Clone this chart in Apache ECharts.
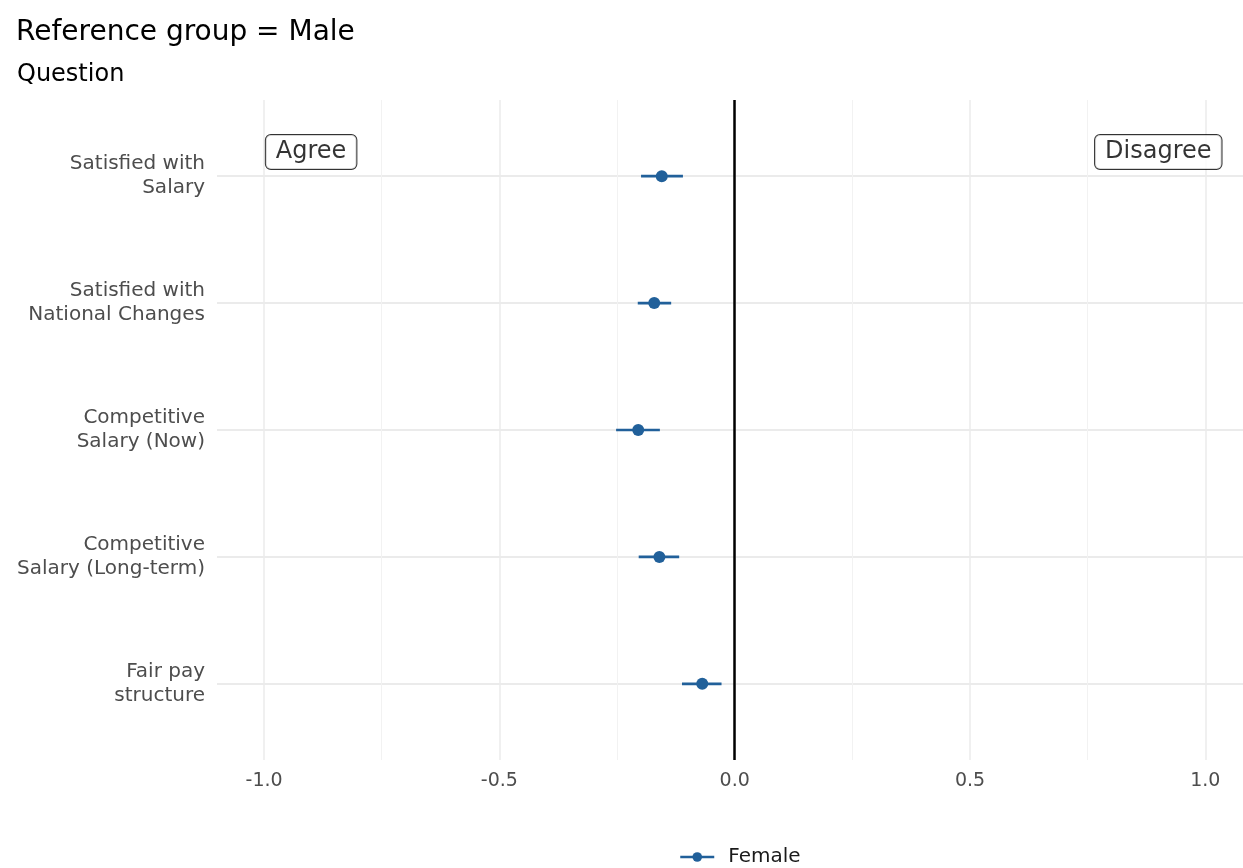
<!DOCTYPE html>
<html>
<head>
<meta charset="utf-8">
<script src="https://cdn.jsdelivr.net/npm/echarts@6/dist/echarts.min.js"></script>
<style>
  html, body { margin: 0; padding: 0; background: #fff; }
  #chart { width: 1243px; height: 868px; }
</style>
</head>
<body>
<div id="chart"></div>
<script>
// questions, top to bottom
var questions = [
  "Satisfied with\nSalary",
  "Satisfied with\nNational Changes",
  "Competitive\nSalary (Now)",
  "Competitive\nSalary (Long-term)",
  "Fair pay\nstructure"
];
var estimate = [-0.155, -0.171, -0.205, -0.160, -0.069];
var lower    = [-0.199, -0.206, -0.252, -0.204, -0.112];
var upper    = [-0.110, -0.135, -0.159, -0.118, -0.028];
var xTicks = [-1, -0.5, 0, 0.5, 1];
var xMinor = [-0.75, -0.25, 0.25, 0.75];
var notes = [[-0.9, 0.81, "Agree"], [0.9, 0.81, "Disagree"]];

var blue = "#21609a";
var font = "DejaVu Sans, Liberation Sans, sans-serif";
var yPos = questions.map(function (q, i) { return i + 1; });

var myChart = echarts.init(document.getElementById("chart"));
myChart.setOption({
  animation: false,
  textStyle: { fontFamily: font },
  title: [
    { text: "Reference group = Male", left: 11, top: 14,
      textStyle: { fontSize: 28, fontWeight: "normal", color: "#000", fontFamily: font } },
    { text: "Question", left: 12, top: 58,
      textStyle: { fontSize: 24, fontWeight: "normal", color: "#000", fontFamily: font } }
  ],
  grid: { left: 217, right: 0, top: 100, bottom: 108, containLabel: false },
  legend: {
    bottom: -4, left: 674,
    data: ["Female"],
    itemWidth: 34, itemHeight: 12, itemGap: 10,
    textStyle: { fontSize: 20, color: "#1a1a1a", fontFamily: font, padding: [0, 0, 0, 9] },
    lineStyle: { width: 2.5, opacity: 1, color: blue },
    itemStyle: { color: blue }
  },
  xAxis: [
    {
      type: "value", min: -1.1, max: 1.08,
      axisLine: { show: false }, axisTick: { show: false, customValues: xTicks },
      axisLabel: { customValues: xTicks, fontSize: 19, color: "#4d4d4d", margin: 12,
        formatter: function (v) { return v.toFixed(1); } },
      splitLine: { show: true, lineStyle: { color: "#ebebeb", width: 1.5 } }
    },
    {
      type: "value", min: -1.1, max: 1.08, show: true, position: "bottom",
      axisLine: { show: false }, axisTick: { show: false, customValues: xMinor },
      axisLabel: { show: false, customValues: xMinor },
      splitLine: { show: true, lineStyle: { color: "#f2f2f2", width: 1 } }
    }
  ],
  yAxis: {
    type: "value", min: 0.4, max: 5.6, inverse: true,
    axisLine: { show: false }, axisTick: { show: false, customValues: yPos },
    axisLabel: { customValues: yPos, fontSize: 20, color: "#4d4d4d", margin: 12,
      lineHeight: 24, align: "right", padding: [8, 0, 0, 0],
      formatter: function (v) { return questions[Math.round(v) - 1] || ""; } },
    splitLine: { show: true, lineStyle: { color: "#ebebeb", width: 2 } }
  },
  series: [
    {
      name: "zero", type: "line", data: [], silent: true,
      markLine: {
        symbol: "none", silent: true, label: { show: false },
        lineStyle: { color: "#000", width: 2.5, type: "solid" },
        data: [{ xAxis: 0 }]
      }
    },
    {
      name: "ci", type: "custom",
      data: questions.map(function (q, i) { return [lower[i], upper[i], i + 1]; }),
      renderItem: function (params, api) {
        var a = api.coord([api.value(0), api.value(2)]);
        var b = api.coord([api.value(1), api.value(2)]);
        return { type: "line", shape: { x1: a[0], y1: a[1], x2: b[0], y2: b[1] },
          style: { stroke: blue, lineWidth: 2.6 } };
      },
      z: 3
    },
    {
      name: "Female", type: "line",
      data: questions.map(function (q, i) { return [estimate[i], i + 1]; }),
      symbol: "circle", symbolSize: 12, showSymbol: true,
      itemStyle: { color: blue },
      lineStyle: { opacity: 0 },
      z: 4
    },
    {
      name: "notes", type: "scatter", symbolSize: 0,
      data: notes,
      label: {
        show: true, position: "inside",
        formatter: function (p) { return p.value[2]; },
        fontSize: 24, color: "#000", textBorderWidth: 0, fontFamily: font,
        backgroundColor: "#fff", borderColor: "#000", borderWidth: 1,
        borderRadius: 5, padding: [6, 10, 4, 10]
      },
      z: 5
    }
  ]
});
</script>
</body>
</html>
